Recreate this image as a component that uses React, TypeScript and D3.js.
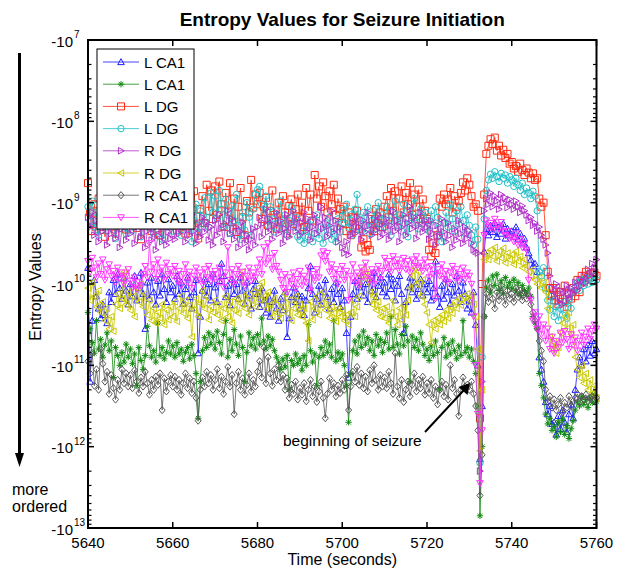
import React from 'react';
import * as d3 from 'd3';

const W = 626;
const H = 572;
const plot = { left: 88, right: 596.5, top: 40, bottom: 528 };

// sampling of every series: one value every 0.5 s from 5640 s to 5760 s
const tStart = 5640;
const tStep = 0.5;

// values are log10 of |entropy| (the plotted value is -10^v)
const lCA1Blue = [
  9.80, 11.20, 10.45, 9.95, 10.15, 10.30, 10.42, 10.25, 10.38, 10.48, 10.10, 10.22, 9.95, 10.12, 9.88, 10.05, 10.18, 9.92, 10.08, 10.25,
  10.00, 10.15, 9.90, 10.20, 10.05, 9.86, 10.12, 10.55, 9.98, 10.18, 9.92, 10.10, 10.25, 9.96, 10.14, 9.88, 10.06, 10.22, 9.94, 10.10,
  10.02, 10.18, 9.90, 10.12, 9.98, 10.24, 10.06, 9.92, 10.16, 10.30, 10.10, 9.95, 10.85, 10.40, 10.08, 9.94, 10.14, 10.00, 10.20, 9.88,
  10.04, 10.22, 9.96, 9.75, 9.90, 10.16, 10.02, 10.26, 9.94, 10.12, 10.00, 10.18, 9.92, 10.08, 10.24, 9.98, 10.14, 10.30, 10.06, 9.96,
  10.12, 10.28, 10.05, 10.20, 10.35, 10.15, 10.40, 10.22, 10.08, 10.30, 10.45, 10.18, 10.32, 10.10, 10.65, 10.42, 10.16, 10.04, 10.22, 10.12,
  10.30, 10.15, 10.38, 10.20, 10.05, 9.78, 10.12, 10.35, 10.18, 10.02, 10.25, 10.10, 9.95, 10.16, 10.30, 10.06, 10.22, 9.98, 10.12, 10.28,
  10.05, 10.20, 10.60, 11.15, 10.40, 10.12, 9.96, 10.18, 10.04, 9.90, 10.14, 10.00, 10.22, 9.94, 10.08, 9.86, 10.16, 10.02, 9.92, 10.10,
  9.98, 10.15, 9.88, 10.06, 9.94, 10.20, 10.02, 9.90, 10.12, 10.60, 10.22, 10.04, 9.92, 10.10, 9.98, 10.18, 10.06, 9.94, 10.14, 10.00,
  10.10, 9.96, 10.20, 10.05, 9.72, 10.15, 10.28, 10.02, 10.18, 9.94, 10.10, 10.24, 10.00, 10.14, 9.90, 10.08, 10.22, 9.98, 10.12, 10.30,
  10.20, 10.35, 10.10, 10.50, 11.00, 12.15, 11.50, 9.60, 9.32, 9.40, 9.28, 9.36, 9.25, 9.42, 9.30, 9.38, 9.26, 9.44, 9.32, 9.40,
  9.35, 9.42, 9.30, 9.45, 9.38, 9.50, 9.44, 9.55, 9.62, 9.70, 9.78, 9.75, 9.85, 10.90, 11.05, 11.20, 11.45, 11.60, 11.50, 11.72,
  11.70, 11.85, 11.62, 11.78, 11.55, 11.70, 11.82, 11.60, 11.48, 11.65, 11.30, 11.05, 10.90, 11.00, 10.80, 10.95, 10.75, 10.88, 10.70, 10.85,
  10.80,
];

const lCA1Green = [
  10.35, 10.55, 10.72, 10.85, 10.45, 10.80, 10.68, 10.90, 10.75, 10.60, 10.82, 10.70, 11.15, 10.78, 10.88, 11.00, 10.84, 10.96, 10.74, 10.90,
  10.80, 10.98, 10.86, 11.25, 10.78, 10.94, 11.05, 10.88, 10.52, 10.76, 10.90, 10.82, 10.96, 10.48, 10.88, 10.78, 10.92, 10.84, 10.70, 10.86,
  10.76, 10.90, 10.72, 10.86, 10.80, 10.95, 10.84, 10.78, 10.92, 10.74, 10.88, 11.10, 11.65, 11.20, 10.82, 10.66, 10.78, 10.60, 10.74, 10.64,
  10.80, 10.58, 10.72, 10.86, 10.62, 10.45, 10.90, 10.68, 10.82, 10.56, 10.74, 10.88, 10.64, 10.78, 11.20, 10.84, 10.60, 10.76, 10.66, 10.80,
  10.62, 10.74, 10.42, 10.70, 10.80, 10.64, 10.76, 10.68, 10.82, 10.90, 10.96, 11.05, 10.92, 11.02, 10.88, 11.30, 10.94, 11.00, 10.86, 10.98,
  10.92, 11.06, 10.88, 11.00, 10.50, 10.82, 10.96, 10.86, 11.25, 10.90, 10.78, 10.88, 10.70, 10.84, 10.74, 10.90, 10.45, 10.95, 10.84, 10.92,
  10.86, 11.00, 11.25, 11.70, 11.10, 10.82, 10.70, 10.86, 10.64, 10.78, 10.58, 10.74, 10.66, 10.82, 10.70, 10.88, 10.62, 10.76, 10.68, 10.84,
  10.72, 10.60, 10.80, 10.40, 10.78, 10.56, 10.74, 10.86, 10.62, 10.76, 10.52, 10.70, 11.20, 10.64, 10.78, 10.68, 10.82, 10.60, 10.74, 10.88,
  10.80, 10.94, 10.76, 10.88, 10.70, 10.84, 11.30, 10.78, 10.66, 10.90, 10.74, 10.86, 10.70, 10.82, 10.92, 10.76, 10.88, 10.45, 10.84, 10.78,
  10.90, 10.80, 10.95, 11.10, 11.50, 12.85, 12.00, 10.40, 10.05, 9.95, 10.10, 9.90, 10.02, 9.88, 10.08, 9.96, 10.12, 9.92, 10.04, 9.98,
  10.06, 9.94, 10.10, 9.98, 10.14, 10.02, 10.08, 10.12, 10.05, 10.15, 10.40, 10.48, 10.55, 11.10, 11.25, 11.40, 11.60, 11.72, 11.65, 11.80,
  11.75, 11.88, 11.70, 11.82, 11.66, 11.85, 11.74, 11.90, 11.78, 11.68, 11.55, 11.45, 11.50, 11.38, 11.48, 11.42, 11.52, 11.40, 11.46, 11.36,
  11.44,
];

const lDGRed = [
  8.76, 9.12, 9.35, 9.02, 9.21, 8.95, 9.30, 9.08, 9.42, 9.15, 8.98, 9.26, 9.05, 9.38, 9.18, 8.92, 9.24, 9.10, 9.33, 9.01,
  9.20, 9.05, 8.92, 9.31, 9.14, 9.45, 9.02, 9.27, 8.88, 9.16, 9.35, 9.07, 8.95, 9.22, 9.40, 9.11, 8.84, 9.19, 9.03, 9.29,
  9.12, 8.96, 9.34, 9.05, 9.22, 8.90, 9.38, 9.14, 9.01, 9.28, 8.86, 9.17, 9.44, 9.08, 8.92, 9.25, 8.78, 9.10, 8.85, 9.20,
  8.80, 9.15, 8.74, 9.02, 9.30, 8.88, 9.11, 8.76, 9.24, 8.95, 9.36, 9.05, 8.82, 9.18, 9.40, 8.98, 9.12, 8.72, 9.06, 8.90,
  9.02, 8.88, 9.20, 9.05, 8.94, 9.28, 9.10, 8.85, 9.15, 9.32, 9.00, 9.22, 8.92, 9.12, 9.38, 9.04, 8.96, 9.26, 9.08, 8.90,
  9.18, 9.00, 9.30, 8.82, 9.10, 8.90, 9.22, 8.66, 8.95, 8.80, 9.05, 8.75, 8.92, 9.12, 8.86, 9.02, 8.78, 9.15, 8.95, 9.08,
  9.25, 9.05, 9.35, 9.12, 9.40, 9.18, 9.28, 9.10, 9.32, 9.55, 9.45, 9.60, 9.52, 9.58, 9.20, 9.35, 9.08, 9.25, 9.12, 9.30,
  9.05, 8.92, 9.18, 8.82, 9.10, 8.86, 9.22, 8.95, 8.80, 9.12, 8.88, 9.02, 8.76, 9.15, 8.90, 9.05, 8.84, 9.20, 8.96, 9.10,
  9.20, 9.58, 9.66, 9.50, 9.62, 9.40, 8.95, 9.05, 8.90, 9.02, 8.96, 8.82, 9.12, 8.92, 9.05, 8.98, 8.88, 8.75, 8.85, 8.70,
  8.78, 8.92, 9.05, 9.02, 9.10, 11.65, 10.00, 8.90, 8.40, 8.30, 8.22, 8.28, 8.20, 8.36, 8.30, 8.42, 8.35, 8.45, 8.40, 8.52,
  8.50, 8.58, 8.55, 8.62, 8.52, 8.60, 8.66, 8.58, 8.63, 8.70, 8.64, 8.72, 8.70, 8.95, 9.05, 9.00, 9.40, 9.85, 10.05, 10.15,
  10.20, 10.05, 10.25, 10.10, 10.22, 10.02, 10.28, 10.12, 10.18, 10.05, 10.15, 9.95, 10.10, 9.90, 9.98, 9.85, 9.92, 9.88, 9.95, 9.86,
  9.90,
];

const lDGCyan = [
  9.05, 9.22, 8.98, 9.30, 9.12, 9.40, 9.08, 9.25, 8.95, 9.35, 9.18, 9.02, 9.28, 9.44, 9.10, 9.32, 9.00, 9.20, 9.38, 9.06,
  9.15, 9.34, 8.98, 9.25, 9.10, 9.42, 9.20, 9.05, 9.30, 8.92, 9.16, 9.38, 9.08, 9.26, 9.02, 9.45, 9.18, 9.30, 9.04, 9.22,
  9.35, 9.12, 9.28, 8.96, 9.40, 9.18, 9.06, 9.32, 9.14, 9.48, 9.22, 9.02, 9.36, 9.10, 9.26, 8.94, 9.18, 9.30, 8.88, 9.12,
  8.92, 9.20, 8.85, 9.08, 9.30, 8.96, 9.15, 9.38, 9.04, 9.22, 8.90, 9.28, 9.45, 9.12, 9.34, 9.00, 9.18, 9.40, 9.08, 8.90,
  8.84, 8.80, 9.02, 9.15, 8.92, 9.28, 9.05, 9.20, 9.36, 9.10, 9.25, 8.98, 9.32, 9.15, 9.40, 9.22, 9.05, 9.30, 9.18, 9.42,
  9.46, 9.35, 9.50, 9.28, 9.42, 9.22, 9.48, 9.38, 9.15, 9.44, 9.30, 9.50, 9.26, 9.40, 9.18, 9.45, 9.32, 9.48, 9.20, 9.36,
  9.10, 9.25, 9.02, 9.30, 9.15, 9.40, 9.08, 8.90, 9.20, 9.35, 9.12, 9.28, 9.05, 9.38, 9.22, 9.10, 9.32, 9.00, 9.26, 9.15,
  9.30, 9.05, 9.22, 9.40, 9.12, 8.98, 9.28, 9.15, 9.35, 9.02, 9.20, 9.42, 9.10, 9.25, 8.95, 9.18, 9.32, 9.08, 9.26, 9.12,
  9.22, 9.35, 9.10, 9.28, 9.05, 9.18, 9.40, 9.48, 9.25, 9.12, 9.30, 9.02, 9.20, 9.35, 9.10, 9.26, 9.05, 9.22, 9.38, 9.15,
  9.28, 9.40, 9.52, 9.30, 9.45, 12.20, 10.90, 9.20, 8.85, 8.72, 8.65, 8.70, 8.62, 8.68, 8.74, 8.64, 8.70, 8.66, 8.76, 8.68,
  8.72, 8.80, 8.70, 8.78, 8.85, 8.76, 8.90, 8.82, 8.88, 8.95, 8.86, 8.92, 9.10, 9.85, 9.90, 9.80, 10.05, 10.20, 10.32, 10.15,
  10.40, 10.28, 10.45, 10.30, 10.38, 10.22, 10.42, 10.18, 10.30, 10.10, 10.05, 9.98, 10.08, 9.95, 10.02, 9.92, 10.00, 9.94, 9.98, 9.90,
  9.95,
];

const rDGPurple = [
  9.18, 9.30, 9.12, 9.40, 9.22, 9.48, 9.15, 9.35, 9.26, 9.52, 9.20, 9.38, 9.10, 9.44, 9.28, 9.55, 9.32, 9.18, 9.46, 9.25,
  9.38, 9.22, 9.50, 9.30, 9.15, 9.42, 9.28, 9.55, 9.35, 9.20, 9.46, 9.32, 9.58, 9.40, 9.25, 9.48, 9.30, 9.52, 9.36, 9.44,
  9.28, 9.45, 9.20, 9.38, 9.12, 9.30, 9.48, 9.22, 9.40, 9.15, 9.35, 9.50, 9.26, 9.42, 9.18, 9.36, 9.24, 9.46, 9.30, 9.52,
  9.22, 9.40, 9.15, 9.32, 9.48, 9.26, 9.10, 9.38, 9.20, 9.45, 9.30, 9.55, 9.35, 9.24, 9.50, 9.40, 9.58, 9.45, 9.32, 9.52,
  9.30, 9.18, 9.42, 9.25, 9.08, 9.36, 9.20, 9.45, 9.28, 9.12, 9.38, 9.22, 9.50, 9.32, 9.15, 9.42, 9.26, 9.10, 9.35, 9.20,
  9.40, 9.25, 9.12, 9.35, 9.20, 9.46, 9.30, 9.15, 9.38, 9.24, 9.05, 9.32, 9.18, 9.42, 9.28, 9.10, 9.36, 9.22, 9.48, 9.30,
  9.55, 9.62, 9.48, 9.64, 9.40, 9.25, 9.38, 9.18, 9.30, 9.45, 9.22, 9.36, 9.12, 9.28, 9.40, 9.20, 9.34, 9.15, 9.42, 9.26,
  9.38, 9.20, 9.45, 9.28, 9.10, 9.35, 9.22, 9.48, 9.30, 9.15, 9.40, 9.25, 9.05, 9.32, 9.18, 9.44, 9.28, 9.12, 9.36, 9.22,
  9.30, 9.45, 9.22, 9.38, 9.52, 9.28, 9.42, 9.20, 9.36, 9.48, 9.25, 9.40, 9.55, 9.32, 9.46, 9.22, 9.38, 9.50, 9.30, 9.44,
  9.35, 9.50, 9.58, 9.60, 9.62, 12.30, 11.20, 9.10, 8.95, 9.02, 8.88, 9.05, 8.92, 8.98, 9.08, 8.90, 9.00, 8.94, 9.06, 8.96,
  9.02, 9.08, 8.98, 9.05, 9.12, 9.04, 9.10, 9.15, 9.22, 9.18, 9.28, 9.25, 9.35, 9.30, 9.40, 9.45, 9.52, 9.62, 9.90, 10.05,
  10.15, 10.00, 10.22, 10.08, 10.25, 10.10, 10.02, 10.18, 10.05, 10.12, 9.98, 10.08, 9.95, 10.02, 9.90, 9.98, 9.82, 9.90, 9.75, 9.85,
  9.70,
];

const rDGYellow = [
  10.05, 10.20, 9.98, 10.15, 10.28, 10.08, 10.35, 10.22, 10.45, 10.30, 10.55, 10.40, 10.58, 10.25, 10.12, 10.30, 10.18, 9.85, 10.25, 10.10,
  10.32, 10.15, 10.40, 10.05, 10.22, 10.00, 10.28, 10.12, 10.38, 10.20, 10.45, 10.30, 10.48, 10.35, 10.42, 10.25, 10.50, 10.32, 10.44, 10.28,
  10.40, 10.22, 10.46, 10.30, 10.15, 10.36, 10.20, 10.42, 10.26, 10.65, 10.32, 10.18, 10.40, 10.24, 10.08, 10.30, 10.16, 10.44, 10.28, 10.35,
  10.20, 10.38, 10.25, 10.45, 10.30, 10.15, 10.40, 10.22, 10.48, 10.32, 10.18, 10.36, 10.24, 9.85, 10.30, 10.12, 10.38, 10.20, 10.10, 10.28,
  10.05, 10.20, 9.98, 10.15, 10.30, 10.10, 10.25, 10.40, 10.18, 10.35, 10.22, 10.42, 10.28, 10.12, 10.36, 10.20, 10.45, 10.30, 10.15, 10.38,
  10.25, 10.40, 10.30, 10.48, 10.70, 10.22, 10.44, 10.30, 10.15, 10.38, 10.24, 10.10, 10.32, 10.20, 10.42, 10.28, 10.36, 10.46, 10.30, 10.40,
  10.32, 10.45, 10.38, 10.50, 10.35, 10.20, 10.40, 10.28, 10.15, 9.90, 9.82, 9.86, 9.95, 10.10, 10.25, 10.15, 10.32, 10.22, 10.40, 10.30,
  10.42, 10.28, 10.48, 10.35, 10.20, 10.40, 10.50, 10.30, 10.44, 10.26, 10.38, 10.20, 10.05, 9.90, 9.80, 10.00, 9.85, 10.15, 9.95, 10.25,
  10.35, 10.50, 10.72, 10.45, 10.55, 10.42, 10.50, 10.38, 10.46, 10.32, 10.42, 10.28, 10.36, 10.22, 10.30, 10.18, 10.26, 10.15, 10.22, 10.12,
  10.20, 10.15, 10.25, 10.40, 10.80, 12.05, 11.30, 9.70, 9.62, 9.70, 9.58, 9.66, 9.55, 9.72, 9.60, 9.68, 9.56, 9.74, 9.62, 9.70,
  9.64, 9.76, 9.60, 9.72, 9.66, 9.80, 9.70, 9.78, 9.85, 9.90, 9.82, 9.95, 10.00, 9.92, 10.05, 9.98, 10.10, 10.30, 10.65, 10.80,
  10.72, 10.85, 10.78, 10.60, 10.48, 10.40, 10.55, 10.35, 10.62, 10.50, 10.90, 11.05, 11.15, 11.00, 11.22, 11.10, 11.30, 11.18, 11.35, 11.25,
  11.40,
];

const rCA1Gray = [
  10.95, 11.10, 10.85, 11.25, 11.05, 11.30, 10.80, 10.98, 11.20, 11.08, 11.35, 11.12, 11.28, 11.42, 11.18, 11.30, 11.05, 11.22, 11.10, 11.26,
  11.12, 11.28, 11.06, 11.20, 11.34, 11.15, 11.26, 11.08, 11.22, 11.36, 11.18, 11.30, 11.14, 11.24, 11.10, 11.55, 11.16, 11.32, 11.20, 11.12,
  11.26, 11.14, 11.30, 11.18, 11.36, 11.22, 11.10, 11.28, 11.16, 11.34, 11.20, 11.40, 11.68, 11.30, 11.15, 11.26, 11.08, 11.22, 11.12, 11.30,
  11.18, 11.05, 11.28, 11.14, 11.35, 11.20, 11.02, 11.26, 11.12, 11.60, 11.22, 11.08, 11.30, 11.16, 11.36, 11.24, 11.10, 11.32, 11.18, 11.26,
  11.08, 10.95, 11.15, 10.78, 11.22, 10.90, 11.10, 11.25, 11.05, 11.18, 11.00, 11.20, 11.12, 11.30, 11.16, 11.40, 11.24, 11.35, 11.20, 11.42,
  11.28, 11.36, 11.22, 11.44, 11.30, 11.18, 11.38, 11.26, 11.45, 11.32, 11.20, 11.40, 11.65, 11.35, 11.16, 11.30, 11.22, 11.38, 11.25, 11.34,
  11.18, 11.30, 11.12, 11.55, 11.26, 11.08, 11.20, 11.02, 11.24, 11.10, 11.28, 11.14, 11.32, 11.06, 11.22, 11.00, 11.18, 11.30, 11.12, 11.26,
  11.15, 11.28, 11.08, 11.22, 11.35, 10.85, 11.26, 11.40, 11.18, 11.45, 11.30, 11.20, 11.38, 11.24, 11.10, 11.32, 11.18, 11.28, 11.14, 11.36,
  11.22, 11.34, 11.18, 11.40, 11.26, 11.48, 11.30, 11.20, 11.38, 11.24, 11.42, 11.00, 11.28, 11.18, 11.35, 11.62, 11.30, 11.15, 11.26, 11.24,
  11.30, 11.20, 11.35, 11.50, 11.80, 12.60, 12.10, 10.40, 10.12, 10.22, 10.05, 10.18, 10.30, 10.10, 10.20, 10.02, 10.15, 10.25, 10.08, 10.18,
  10.12, 10.22, 10.05, 10.16, 10.08, 10.20, 10.10, 10.18, 10.14, 10.25, 10.35, 10.45, 10.55, 10.70, 10.82, 10.95, 11.30, 11.45, 11.38, 11.52,
  11.42, 11.55, 11.48, 11.40, 11.58, 11.46, 11.52, 11.38, 11.50, 11.44, 11.40, 11.35, 11.45, 11.38, 11.42, 11.36, 11.44, 11.40, 11.38, 11.42,
  11.40,
];

const rCA1Pink = [
  9.72, 9.85, 9.68, 9.80, 9.92, 9.75, 9.88, 9.70, 9.95, 9.82, 9.76, 9.90, 9.84, 9.98, 9.80, 9.93, 9.86, 10.00, 9.90, 9.82,
  9.96, 10.04, 9.92, 10.06, 9.98, 10.02, 9.88, 9.78, 9.92, 9.50, 9.85, 9.76, 9.94, 9.70, 9.86, 9.80, 9.95, 9.74, 9.88, 9.82,
  9.90, 9.78, 9.96, 9.84, 10.02, 9.88, 9.76, 9.98, 9.85, 10.05, 9.90, 9.80, 9.95, 9.86, 10.00, 9.82, 9.92, 9.78, 9.96, 9.88,
  9.84, 9.98, 9.80, 9.92, 10.04, 9.86, 9.55, 9.95, 9.82, 10.00, 9.88, 9.78, 9.94, 9.85, 10.02, 9.90, 9.80, 9.96, 9.86, 9.92,
  9.80, 9.70, 9.88, 9.55, 9.75, 9.50, 9.68, 9.82, 9.62, 9.78, 9.85, 9.95, 10.05, 9.88, 10.10, 9.92, 10.00, 9.86, 10.06, 9.94,
  9.84, 10.02, 9.90, 9.98, 9.80, 10.08, 9.88, 9.96, 9.82, 9.92, 9.65, 9.60, 9.72, 9.62, 9.85, 9.76, 9.94, 9.82, 10.00, 9.88,
  9.78, 9.95, 9.84, 10.20, 9.90, 9.76, 9.98, 9.86, 10.02, 9.80, 9.92, 9.74, 9.88, 9.96, 9.82, 10.00, 9.86, 9.78, 9.94, 9.84,
  9.68, 9.80, 9.72, 9.85, 9.66, 9.78, 9.70, 9.84, 9.75, 9.68, 9.82, 9.72, 9.86, 9.70, 9.78, 9.66, 9.80, 9.74, 9.84, 9.70,
  9.80, 9.92, 9.78, 9.88, 10.18, 9.82, 9.90, 9.76, 9.94, 9.84, 9.98, 9.86, 9.78, 9.92, 9.82, 9.96, 9.88, 9.80, 9.94, 9.86,
  9.90, 10.00, 10.40, 11.00, 11.60, 12.45, 11.80, 9.40, 9.22, 9.30, 9.25, 9.34, 9.20, 9.28, 9.32, 9.24, 9.36, 9.40, 9.35, 9.44,
  9.42, 9.48, 9.38, 9.52, 9.45, 9.55, 9.50, 9.58, 9.95, 10.20, 10.45, 10.35, 10.55, 10.40, 10.62, 10.50, 10.70, 10.55, 10.80, 10.65,
  10.85, 10.70, 10.78, 10.60, 10.72, 10.58, 10.68, 10.80, 10.62, 10.75, 10.66, 10.82, 10.70, 10.60, 10.75, 10.65, 10.55, 10.68, 10.58, 10.50,
  10.55,
];

const seriesValues = [lCA1Blue, lCA1Green, lDGRed, lDGCyan, rDGPurple, rDGYellow, rCA1Gray, rCA1Pink];
const seriesNames = ['L CA1', 'L CA1', 'L DG', 'L DG', 'R DG', 'R DG', 'R CA1', 'R CA1'];
const seriesColors = ['#1a1aff', '#108a10', '#ff2a10', '#20c0c8', '#b030c8', '#c8c800', '#555555', '#ff30ff'];
const seriesMarkers = ['tri-up', 'star', 'square', 'circle', 'tri-right', 'tri-left', 'diamond', 'tri-down'];

const xTicks = [5640, 5660, 5680, 5700, 5720, 5740, 5760];
const yDecades = [7, 8, 9, 10, 11, 12, 13];

function markerPath(kind: string): string {
  const s = 3.3;
  switch (kind) {
    case 'tri-up':
      return `M0,${-s}L${s},${s * 0.8}L${-s},${s * 0.8}Z`;
    case 'tri-down':
      return `M0,${s}L${s},${-s * 0.8}L${-s},${-s * 0.8}Z`;
    case 'tri-right':
      return `M${s},0L${-s * 0.8},${-s}L${-s * 0.8},${s}Z`;
    case 'tri-left':
      return `M${-s},0L${s * 0.8},${-s}L${s * 0.8},${s}Z`;
    case 'square':
      return 'M-3.5,-3.5H3.5V3.5H-3.5Z';
    case 'circle':
      return 'M3.2,0A3.2,3.2 0 1 1 -3.2,0A3.2,3.2 0 1 1 3.2,0Z';
    case 'diamond':
      return 'M0,-3.6L3,0L0,3.6L-3,0Z';
    default:
      // asterisk
      return 'M-3.2,0H3.2M0,-3.2V3.2M-2.3,-2.3L2.3,2.3M-2.3,2.3L2.3,-2.3';
  }
}

const fontFamily = 'Liberation Sans, Arial, Helvetica, sans-serif';

export default function App() {
  const x = d3.scaleLinear().domain([5640, 5760]).range([plot.left, plot.right]);
  // log scale on |entropy|; axis shows -10^k, more negative further down
  const y = d3.scaleLog().domain([1e7, 1e13]).range([plot.top, plot.bottom]);

  const line = d3
    .line<number>()
    .x((_, i) => x(tStart + i * tStep))
    .y((v) => y(Math.pow(10, v)));

  const minorTicks: number[] = [];
  for (let k = 7; k < 13; k++) {
    for (let j = 2; j <= 9; j++) minorTicks.push(j * Math.pow(10, k));
  }

  const legend = { x: 97, y: 49, w: 97, h: 180, row: 22.2 };

  return (
    <svg
      width={W}
      height={H}
      style={{ position: 'absolute', left: 0, top: 0, background: '#fff' }}
      fontFamily={fontFamily}
    >
      <rect x={0} y={0} width={W} height={H} fill="#fff" />

      {/* series */}
      {seriesValues.map((vals, si) => (
        <g key={si}>
          <path d={line(vals) || ''} fill="none" stroke={seriesColors[si]} strokeWidth={1} strokeOpacity={0.8} />
          {vals.map((v, i) => (
            <path
              key={i}
              transform={`translate(${x(tStart + i * tStep)},${y(Math.pow(10, v))})`}
              d={markerPath(seriesMarkers[si])}
              fill="none"
              stroke={seriesColors[si]}
              strokeWidth={1}
            />
          ))}
        </g>
      ))}

      {/* axes box */}
      <rect
        x={plot.left}
        y={plot.top}
        width={plot.right - plot.left}
        height={plot.bottom - plot.top}
        fill="none"
        stroke="#000"
        strokeWidth={2}
      />
      {xTicks.map((t) => (
        <g key={t}>
          <line x1={x(t)} x2={x(t)} y1={plot.bottom} y2={plot.bottom - 6} stroke="#000" strokeWidth={1.5} />
          <line x1={x(t)} x2={x(t)} y1={plot.top} y2={plot.top + 6} stroke="#000" strokeWidth={1.5} />
          <text x={x(t)} y={plot.bottom + 20} textAnchor="middle" fontSize={15}>
            {t}
          </text>
        </g>
      ))}
      {yDecades.map((k) => (
        <g key={k}>
          <line x1={plot.left} x2={plot.left + 6} y1={y(Math.pow(10, k))} y2={y(Math.pow(10, k))} stroke="#000" strokeWidth={1.5} />
          <line x1={plot.right} x2={plot.right - 6} y1={y(Math.pow(10, k))} y2={y(Math.pow(10, k))} stroke="#000" strokeWidth={1.5} />
          <text x={73} y={y(Math.pow(10, k)) + 6.5} textAnchor="end" fontSize={15}>
            -10
          </text>
          <text x={74} y={y(Math.pow(10, k)) - 2} fontSize={10}>
            {k}
          </text>
        </g>
      ))}
      {minorTicks.map((m) => (
        <g key={m}>
          <line x1={plot.left} x2={plot.left + 3.5} y1={y(m)} y2={y(m)} stroke="#000" strokeWidth={1.2} />
          <line x1={plot.right} x2={plot.right - 3.5} y1={y(m)} y2={y(m)} stroke="#000" strokeWidth={1.2} />
        </g>
      ))}

      {/* titles */}
      <text x={(plot.left + plot.right) / 2} y={26} textAnchor="middle" fontSize={19} fontWeight="bold">
        Entropy Values for Seizure Initiation
      </text>
      <text x={(plot.left + plot.right) / 2} y={565} textAnchor="middle" fontSize={16}>
        Time (seconds)
      </text>
      <text transform="translate(41,287) rotate(-90)" textAnchor="middle" fontSize={16}>
        Entropy Values
      </text>

      {/* "more ordered" arrow */}
      <line x1={19.5} x2={19.5} y1={53} y2={456} stroke="#000" strokeWidth={3} />
      <path d="M15,453L24,453L19.5,467Z" fill="#000" />
      <text x={12} y={495} fontSize={16}>
        more
      </text>
      <text x={12} y={512} fontSize={16}>
        ordered
      </text>

      {/* annotation */}
      <line x1={425} y1={432} x2={464} y2={390} stroke="#000" strokeWidth={2} />
      <path d="M470,383L467.5,395L458.5,387Z" fill="#000" />
      <text x={283} y={446} fontSize={15.5}>
        beginning of seizure
      </text>

      {/* legend */}
      <rect x={legend.x} y={legend.y} width={legend.w} height={legend.h} fill="#fff" stroke="#000" strokeWidth={1} />
      {seriesNames.map((name, i) => {
        const cy = legend.y + 13 + i * legend.row;
        return (
          <g key={i}>
            <line x1={103} x2={139} y1={cy} y2={cy} stroke={seriesColors[i]} strokeWidth={1} strokeOpacity={0.8} />
            <path transform={`translate(121,${cy})`} d={markerPath(seriesMarkers[i])} fill="none" stroke={seriesColors[i]} strokeWidth={1} />
            <text x={144} y={cy + 5.5} fontSize={15}>
              {name}
            </text>
          </g>
        );
      })}
    </svg>
  );
}
